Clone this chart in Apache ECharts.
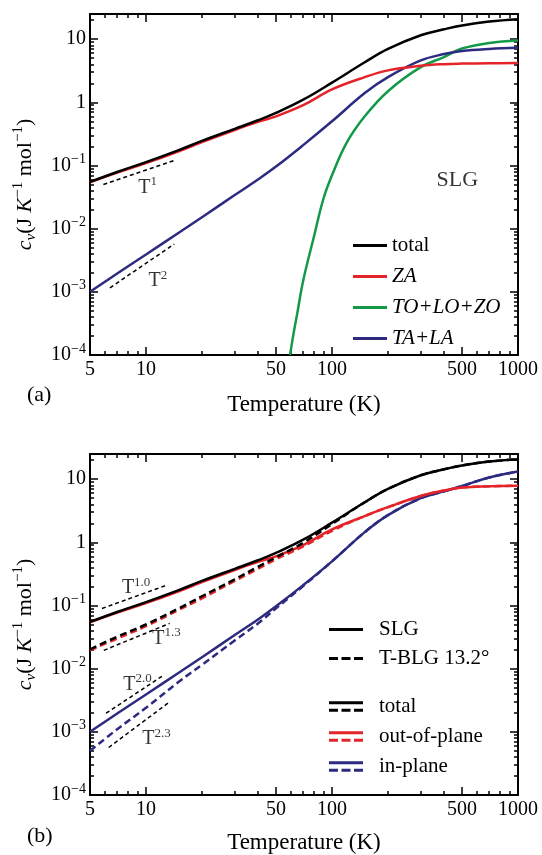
<!DOCTYPE html>
<html>
<head>
<meta charset="utf-8">
<title>Specific heat of SLG and T-BLG</title>
<script src="https://cdn.jsdelivr.net/npm/echarts@6/dist/echarts.min.js"></script>
<style>
  html, body { margin: 0; padding: 0; background: #fff; }
  #chart { width: 542px; height: 855px; }
</style>
</head>
<body>
<div id="chart"></div>
<script>
// temperature grid (K) used by most curves
const temps = [5, 7, 10, 15, 20, 30, 40, 50, 70, 100, 150, 200, 300, 400, 500, 700, 1000];

// (a) SLG, split by phonon branch
const slgTotal = [0.055, 0.079, 0.113, 0.175, 0.245, 0.38, 0.52, 0.68, 1.1, 2.05, 4.3, 7.0, 11.5, 14.3, 16.5, 19.0, 20.7];
const slgZA = [0.054, 0.077, 0.109, 0.168, 0.235, 0.365, 0.49, 0.6, 0.9, 1.6, 2.5, 3.2, 3.78, 4.02, 4.1, 4.15, 4.18];
const slgTALA = [0.001, 0.00195, 0.0039, 0.0086, 0.0152, 0.034, 0.06, 0.096, 0.21, 0.5, 1.4, 2.5, 4.6, 5.8, 6.5, 7.0, 7.3];
const optTemps = [59.5, 62, 65, 70, 80, 90, 100, 120, 150, 200, 300, 400, 500, 700, 1000];
const slgOptical = [0.0001, 0.00021, 0.00045, 0.0015, 0.0075, 0.03, 0.07, 0.23, 0.6, 1.5, 3.6, 5.2, 7.1, 8.7, 9.5];

// (b) SLG vs twisted bilayer, out-of-plane / in-plane
const slgOut = [0.054, 0.077, 0.109, 0.168, 0.235, 0.365, 0.49, 0.6, 0.9, 1.6, 2.6, 3.6, 5.4, 6.6, 7.35, 7.7, 7.85];
const slgIn = [0.001, 0.00195, 0.0039, 0.0086, 0.0152, 0.034, 0.06, 0.097, 0.21, 0.5, 1.45, 2.7, 5.0, 6.4, 7.8, 10.6, 13.2];
const tblgTotal = [0.0202, 0.032, 0.05, 0.09, 0.14, 0.26, 0.41, 0.58, 0.98, 1.95, 4.3, 7.0, 11.5, 14.3, 16.5, 19.0, 20.7];
const tblgOut = [0.0195, 0.030, 0.047, 0.085, 0.13, 0.245, 0.38, 0.54, 0.86, 1.52, 2.6, 3.6, 5.4, 6.6, 7.35, 7.7, 7.85];
const tblgIn = [0.0005, 0.0011, 0.0024, 0.0062, 0.0115, 0.028, 0.052, 0.09, 0.203, 0.5, 1.45, 2.7, 5.0, 6.4, 7.8, 10.6, 13.2];

// power-law guide segments [[T0, c0], [T1, c1]] and their labels [T, c, exponent]
const guidesA = [[[5.9, 0.05], [14.5, 0.123]], [[6.4, 0.00116], [14.2, 0.0057]]];
const guideLabelsA = [[10.2, 0.045, '1'], [11.6, 0.00148, '2']];
const guidesB = [[[5.8, 0.0897], [12.9, 0.209]], [[5.93, 0.0195], [13.4, 0.052]], [[6.1, 0.00197], [12.4, 0.00783]], [[6.3, 0.000565], [13.4, 0.00298]]];
const guideLabelsB = [[8.85, 0.19, '1.0'], [12.9, 0.03, '1.3'], [9.0, 0.0056, '2.0'], [11.4, 0.00077, '2.3']];
const slgTag = [[472, 0.058, 'SLG']];

// axis ticks and labels
const xLabels = [5, 10, 50, 100, 500, 1000];
const xMajor = [10, 50, 100, 500, 1000];
const xMinor = [6, 7, 8, 9, 20, 30, 40, 60, 70, 80, 90, 200, 300, 400, 600, 700, 800, 900];
const yMajor = [1e-4, 1e-3, 1e-2, 1e-1, 1, 10];
const yMinor = [];
[1e-4, 1e-3, 1e-2, 1e-1, 1, 10].forEach(d => {
  [2, 3, 4, 5, 6, 7, 8, 9].forEach(m => { if (m * d < 25) yMinor.push(+(m * d).toPrecision(3)); });
});

const serif = 'Liberation Serif';
const BLACK = '#000000', RED = '#e5242a', GREEN = '#139a48', BLUE = '#2d2b80';

const solidIcon = 'path://M0,0H34V3H0Z';
const dashIcon = 'path://M0,0H9V3H0Z M12.5,0H21.5V3H12.5Z M25,0H34V3H25Z';
const pairIcon = 'path://M0,0H34V3H0Z M0,7.5H9V10.5H0Z M12.5,7.5H21.5V10.5H12.5Z M25,7.5H34V10.5H25Z';

function pow10Label(v) {
  const e = Math.round(Math.log10(v));
  if (e === 0) return '1';
  if (e === 1) return '10';
  return '10{s|\u2212' + (-e) + '}';
}

const axisLine = { show: true, onZero: false, lineStyle: { color: BLACK, width: 2 } };
function tick(values, len) {
  return { show: true, inside: true, length: len, customValues: values, lineStyle: { color: BLACK, width: 1.5 } };
}

function xAxes(g, nameGap) {
  const base = { type: 'log', gridIndex: g, min: 5, max: 1000, splitLine: { show: false } };
  return [
    Object.assign({}, base, {
      position: 'bottom', axisLine, axisTick: tick(xMajor, 8),
      axisLabel: { customValues: xLabels, margin: 5, color: BLACK, fontFamily: serif, fontSize: 20, formatter: v => String(v) },
      name: 'Temperature (K)', nameLocation: 'middle', nameGap,
      nameTextStyle: { color: BLACK, fontFamily: serif, fontSize: 23 }
    }),
    Object.assign({}, base, { position: 'bottom', axisLine: { show: false }, axisTick: tick(xMinor, 4), axisLabel: { show: false } }),
    Object.assign({}, base, { position: 'top', axisLine, axisTick: tick(xMajor, 8), axisLabel: { show: false } }),
    Object.assign({}, base, { position: 'top', axisLine: { show: false }, axisTick: tick(xMinor, 4), axisLabel: { show: false } })
  ];
}

function yAxes(g) {
  const base = { type: 'log', gridIndex: g, min: 1e-4, max: 25, splitLine: { show: false } };
  return [
    Object.assign({}, base, {
      position: 'left', axisLine, axisTick: tick(yMajor, 8),
      axisLabel: {
        customValues: yMajor, margin: 4, color: BLACK, fontFamily: serif, fontSize: 20, lineHeight: 26,
        formatter: pow10Label,
        rich: { s: { fontFamily: serif, fontSize: 14, color: BLACK, verticalAlign: 'top', lineHeight: 14 } }
      },
      name: '{i|c}{sub|v}{n|(J }{i|K}{sup|\u22121}{n| mol}{sup|\u22121}{n|)}',
      nameLocation: 'middle', nameGap: 51, nameRotate: 90,
      nameTextStyle: {
        color: BLACK, fontFamily: serif, fontSize: 22, lineHeight: 28,
        rich: {
          n: { fontFamily: serif, fontSize: 22, color: BLACK },
          i: { fontFamily: serif, fontSize: 22, fontStyle: 'italic', color: BLACK },
          sub: { fontFamily: serif, fontSize: 15, fontStyle: 'italic', color: BLACK, verticalAlign: 'bottom', lineHeight: 15 },
          sup: { fontFamily: serif, fontSize: 15, color: BLACK, verticalAlign: 'top', lineHeight: 15 }
        }
      }
    }),
    Object.assign({}, base, { position: 'left', axisLine: { show: false }, axisTick: tick(yMinor, 4), axisLabel: { show: false } }),
    Object.assign({}, base, { position: 'right', axisLine, axisTick: tick(yMajor, 8), axisLabel: { show: false } }),
    Object.assign({}, base, { position: 'right', axisLine: { show: false }, axisTick: tick(yMinor, 4), axisLabel: { show: false } })
  ];
}

function curve(name, axis, t, v, color, dashed) {
  return {
    name, type: 'line', xAxisIndex: axis, yAxisIndex: axis,
    data: t.map((x, i) => [x, v[i]]),
    smooth: 0.4, symbol: 'none', silent: true,
    color, itemStyle: { color },
    lineStyle: { color, width: 2.5, type: dashed ? [7, 4] : 'solid' }
  };
}

function guides(axis, segs) {
  return segs.map(s => ({
    type: 'line', xAxisIndex: axis, yAxisIndex: axis, data: s, symbol: 'none', silent: true,
    lineStyle: { color: BLACK, width: 1.5, type: [4, 3] }
  }));
}

function tags(axis, list, fmt) {
  return {
    type: 'scatter', xAxisIndex: axis, yAxisIndex: axis, silent: true,
    symbolSize: 1, itemStyle: { color: 'transparent' },
    data: list.map(d => ({ value: [d[0], d[1]], name: d[2] })),
    label: {
      show: true, position: 'inside', color: BLACK, fontFamily: serif, fontSize: 20, lineHeight: 24,
      formatter: fmt,
      rich: {
        t: { fontFamily: serif, fontSize: 20, color: BLACK },
        big: { fontFamily: serif, fontSize: 22, color: BLACK },
        s: { fontFamily: serif, fontSize: 13, color: BLACK, verticalAlign: 'top', lineHeight: 13 }
      }
    }
  };
}
const powerFmt = p => '{t|T}{s|' + p.name + '}';

const legendText = {
  color: BLACK, fontFamily: serif, fontSize: 21, lineHeight: 21,
  rich: { i: { fontFamily: serif, fontSize: 21, fontStyle: 'italic', color: BLACK } }
};

const chart = echarts.init(document.getElementById('chart'));

const option = {
  animation: false,
  backgroundColor: '#ffffff',
  grid: [
    { left: 90, right: 24, top: 14, height: 341 },
    { left: 90, right: 24, top: 454, height: 342 }
  ],
  xAxis: xAxes(0, 38).concat(xAxes(1, 36)),
  yAxis: yAxes(0).concat(yAxes(1)),
  legend: [
    {
      orient: 'vertical', left: 348, top: 230, itemWidth: 34, itemHeight: 3, itemGap: 10,
      itemStyle: { borderWidth: 0 }, lineStyle: { width: 0 },
      selectedMode: false, textStyle: legendText,
      formatter: n => (n === 'total' ? n : '{i|' + n + '}'),
      data: [
        { name: 'total', icon: solidIcon },
        { name: 'ZA', icon: solidIcon },
        { name: 'TO+LO+ZO', icon: solidIcon },
        { name: 'TA+LA', icon: solidIcon }
      ]
    },
    {
      orient: 'vertical', left: 324, top: 614, itemWidth: 34, itemHeight: 3, itemGap: 8,
      itemStyle: { borderWidth: 0 }, lineStyle: { width: 0 },
      selectedMode: false, textStyle: Object.assign({ padding: [0, 0, 0, 11] }, legendText),
      data: [
        { name: 'SLG', icon: solidIcon },
        { name: 'T-BLG 13.2\u00b0', icon: dashIcon }
      ]
    },
    {
      orient: 'vertical', left: 324, top: 691, itemWidth: 34, itemHeight: 10.5, itemGap: 9,
      itemStyle: { borderWidth: 0 }, lineStyle: { width: 0 },
      selectedMode: false, textStyle: Object.assign({ padding: [0, 0, 0, 11] }, legendText),
      data: [
        { name: 'total', icon: pairIcon },
        { name: 'out-of-plane', icon: pairIcon },
        { name: 'in-plane', icon: pairIcon }
      ]
    }
  ],
  graphic: [
    { type: 'text', left: 27, top: 384, style: { text: '(a)', fill: BLACK, font: '22px "Liberation Serif"' } },
    { type: 'text', left: 27, top: 825, style: { text: '(b)', fill: BLACK, font: '22px "Liberation Serif"' } }
  ],
  series: [
    // panel (a)
    curve('TO+LO+ZO', 0, optTemps, slgOptical, GREEN, false),
    curve('TA+LA', 0, temps, slgTALA, BLUE, false),
    curve('ZA', 0, temps, slgZA, RED, false),
    curve('total', 0, temps, slgTotal, BLACK, false),
    ...guides(0, guidesA),
    tags(0, guideLabelsA, powerFmt),
    tags(0, slgTag, p => '{big|' + p.name + '}'),
    // panel (b)
    curve('T-BLG in-plane', 4, temps, tblgIn, BLUE, true),
    curve('in-plane', 4, temps, slgIn, BLUE, false),
    curve('T-BLG out-of-plane', 4, temps, tblgOut, RED, true),
    curve('out-of-plane', 4, temps, slgOut, RED, false),
    curve('T-BLG 13.2\u00b0', 4, temps, tblgTotal, BLACK, true),
    curve('SLG', 4, temps, slgTotal, BLACK, false),
    ...guides(4, guidesB),
    tags(4, guideLabelsB, powerFmt)
  ]
};

chart.setOption(option);
</script>
</body>
</html>
